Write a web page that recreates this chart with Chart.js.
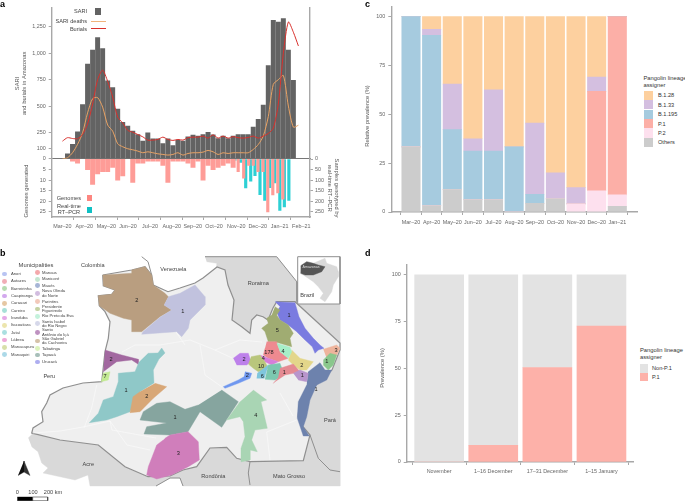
<!DOCTYPE html>
<html>
<head>
<meta charset="utf-8">
<title>SARI, lineages and P.1 prevalence in Amazonas</title>
<script src="https://cdn.jsdelivr.net/npm/chart.js@4/dist/chart.umd.min.js"></script>
<style>
  html, body { margin: 0; padding: 0; background: #fff; }
  body { width: 685px; height: 501px; position: relative; overflow: hidden; font-family: "Liberation Sans", sans-serif; }
  canvas { position: absolute; }
  .txt { position: absolute; white-space: pre; color: #444; font-size: 5.6px; line-height: 6.4px; }
  .key { position: absolute; }
</style>
</head>
<body>
<canvas id="mapChart" style="left:0;top:245px" width="345" height="256"></canvas>
<canvas id="sariChart" style="left:0;top:0" width="345" height="165"></canvas>
<canvas id="genomeChart" style="left:0;top:150px" width="345" height="90"></canvas>
<canvas id="lineageChart" style="left:350px;top:0" width="290" height="232"></canvas>
<canvas id="p1Chart" style="left:350px;top:250px" width="286" height="232"></canvas>
<script>
// ---- panel a ----
const sariWeeks = [0,1,2,3,4,5,6,7,8,9,10,11,12,13,14,15,16,17,18,19,20,21,22,23,24,25,26,27,28,29,30,31,32,33,34,35,36,37,38,39,40,41,42,43,44,45];
const sariCases = [47,136,256,515,897,1030,1150,1045,740,676,472,345,310,262,230,167,246,190,190,145,190,126,177,167,208,224,215,230,250,227,192,215,192,215,230,230,230,300,375,510,885,1313,1297,1330,1030,745];

const lineWeeks = [-1,0,1,2,3,4,5,6,7,8,9,10,11,12,13,14,15,16,17,18,19,20,21,22,23,24,25,26,27,28,29,30,31,32,33,34,35,36,37,38,39,40,41,42,43,44,45,46];
const burials = [167,200,192,190,230,330,520,750,840,735,585,395,340,270,252,230,208,177,177,183,205,183,174,183,177,200,205,205,215,196,227,196,215,196,210,200,196,202,215,196,215,240,290,520,1000,1297,1200,1070];
const sariDeaths = [0,10,57,136,246,435,570,580,490,320,262,142,114,95,85,73,57,66,57,47,41,35,41,57,35,50,57,57,63,79,66,41,57,50,57,57,57,57,88,135,215,400,706,750,790,500,300,318];

const genomeWeeks = [1,2,4,5,6,7,8,9,10,11,13,14,15,16,17,18,19,20,21,22,23,24,25,26,27,28,29,30,31,32,33];
const genomeCounts = [1,2,5,12,7,6,6,4,10,8,11,2,2,1,1,1,3,11,1,1,1,2,4,1,10,3,5,4,3,2,4];
const lateGenomeWeeks = [34,35.1,36.1,37,37.95,38.95,39.9,40.9,41.9,42.9];
const lateGenomeCounts = [6,9,3,3,6,6,25,17,16,19];
const rtPcrWeeks = [33.4,34.5,35.5,36.5,37.35,38.35,39.3,40.3,41.3,42.3,43.2,44.1];
const rtPcrSamples = [5,16,137,105,79,168,195,135,113,242,226,195];

const monthWeeks = [-1.04,3.35,7.73,12.05,16.43,20.76,24.94,29.18,33.63,37.89,42.27,46.57];
const monthLabels = ["Mar–20","Apr–20","May–20","Jun–20","Jul–20","Aug–20","Sep–20","Oct–20","Nov–20","Dec–20","Jan–21","Feb–21"];
const sariTicks = [0,100,250,500,750,1000,1250];
const genomeTicks = [5,10,15,20,25];
const sampleTicks = [0,50,100,150,200,250];

// ---- panel c ----
const lineageMonths = ["Mar–20","Apr–20","May–20","Jun–20","Jul–20","Aug–20","Sep–20","Oct–20","Nov–20","Dec–20","Jan–21"];
const others = [33.3,3.2,11.5,6.25,6.25,0,4.5,6.7,0,0,2.9];
const p2 = [0,0,0,0,0,0,0,0,4.2,10.9,5.9];
const p1 = [0,0,0,0,0,0,0,0,0,50.9,91.2];
const b1195 = [66.7,87.3,30.7,25,25,33.3,4.6,0,0,0,0];
const b1133 = [0,3,23.3,6.25,31.25,0,36.4,13.3,8.3,7.3,0];
const b1128 = [0,6.5,34.5,62.5,37.5,66.7,54.5,80,87.5,30.9,0];

// ---- panel d ----
const periods = ["November","1–16 December","17–31 December","1–15 January"];
const p1Share = [0,8.9,50.5,72.7];
const nonP1Share = [100,91.1,49.5,27.3];

// ---- panel b, map outlines in map units ----
const amazonas = [[102.7,275],[131.7,270],[145,266.7],[151.7,275],[153.3,285],[168,291.7],[180,288],[195,283],[203,278],[217,267],[225,270],[228,285],[234,300],[232,320],[241.7,326.7],[250,333.3],[251.7,320],[256.7,315],[263,316.7],[268,320],[273,308],[276.7,301.7],[295,301.7],[340,343],[340,350],[332,370],[316,385],[308,390],[300,400],[298,416.7],[303,426.7],[310,435],[303.3,460.7],[250,461.7],[236.7,458.3],[226.7,447.3],[210,448],[196.7,466.7],[183,470],[170,476],[148,476.7],[125,466.7],[98.3,445],[60,440],[33,433.3],[31.7,433],[33,428],[43,421.7],[41.7,411.7],[46.7,403],[50,395],[63,388],[83,383],[101.7,381.7],[105,351.7],[108.3,338.3],[110,321.7],[105,311.7],[99.3,305.7],[98.3,295.7],[111.7,294.3],[115,290],[103.3,285.7]];
const roraima = [[205,256.7],[276.7,256.7],[297,282],[297,301.7],[276.7,301.7],[273,308],[268,320],[263,316.7],[256.7,315],[251.7,320],[250,333.3],[241.7,326.7],[232,320],[234,300],[228,285],[225,270],[216.7,267.7],[216.7,263.3],[206.7,261.7]];
const para = [[297,301.7],[340,301.7],[340,486],[250,486],[248.3,473],[250,461.7],[303.3,460.7],[310,435],[303,426.7],[298,416.7],[300,400],[308,390],[316,385],[332,370],[340,350],[340,343],[295,301.7]];
const southStates = [[28.3,438],[33,433.3],[60,440],[98.3,445],[125,466.7],[148,476.7],[170,476],[183,470],[196.7,466.7],[210,448],[226.7,447.3],[236.7,458.3],[250,461.7],[250,486],[183,486],[180,478],[170,478],[156,486],[90,486],[88,475],[75,480],[43,473],[48,468],[41.7,463],[38,451.7],[31.7,446.7]];
const stateBorders = [[[310,435],[318.3,458.3],[330,470],[340,471.7]],[[250,461.7],[248.3,473],[250,485]],[[297,282],[297,301.7]],[[156,486],[170,478],[180,478],[183,486]],[[205,256.7],[276.7,256.7],[297,282]],[[141.7,256.7],[148,261.7],[151.7,275]]];
const rivers = [[[33,433],[60,431],[83,427],[110,421],[112,430],[156,438]],[[96.7,385],[91.7,408],[84,428]],[[110,421],[127,445],[150,450]],[[266.7,432],[270,460]],[[266.7,432],[296.7,420]],[[280,393],[293,416]],[[160,345],[190,340],[215,350],[232,358]],[[200,345],[205,375],[222,387]],[[122,352],[135,345],[160,345]],[[215,350],[240,340],[262,342]],[[185,345],[176,332]]];

const municipalityShapes = [
  { color: "#b99e80", shape: [[102.7,275],[131.7,273.3],[131.7,270],[145,266.7],[151.7,275],[153.3,285],[165,293.3],[168.3,296.7],[164,305],[171.7,310],[160,316.7],[141.7,331.7],[131.7,331.7],[131.7,320],[123.3,318.3],[110,313.3],[99.3,305.7],[98.3,295.7],[111.7,294.3],[115,290],[103.3,285.7]] },
  { color: "#c1c2de", shape: [[168.3,296.7],[180,293.3],[195,285],[205,296.7],[205,305],[190,320],[188.3,328.3],[181.7,336.7],[176.7,331.7],[141.7,334.3],[143,331.7],[160,317.3],[171.7,310],[164,305]] },
  { color: "#a268a0", shape: [[105,350],[121.7,355],[138.3,359.3],[138.3,364.3],[131.7,360],[116.7,361.7],[103.3,371.7]] },
  { color: "#c3ea93", shape: [[103.3,373.3],[110,371.7],[108.3,380],[101,381.7]] },
  { color: "#8fc8c8", shape: [[148,353.3],[158,353],[161.7,348],[165,353],[159,359],[153.3,370],[154,383],[140,391.7],[130,411.7],[116.7,416.7],[106.7,420],[89.3,422.7],[98.3,413.3],[103.3,400],[113.3,396.7],[118.3,381.7],[118.3,373.3],[135,371.7],[139,362]] },
  { color: "#d8a777", shape: [[155,383.3],[166.7,386.7],[153.3,398.3],[140,411.7],[130,412.7],[133,396.7],[140,391.7]] },
  { color: "#86a59f", shape: [[221.7,390],[238.3,401.7],[221.7,427.3],[200,411.7],[188,431.7],[170,435],[144,434],[146.7,426.7],[166.7,423],[140,420],[143.3,411.7],[156.7,403.3],[170,401.7],[185,409.3],[198.3,405]] },
  { color: "#d07ebb", shape: [[165,438.3],[170,435],[188,431.7],[198.3,441.7],[199.3,460],[188.3,466.7],[171.7,475],[156.7,479],[146.7,475],[148.3,466.7],[151.7,458],[156.7,445],[163.3,440]] },
  { color: "#a9d5b4", shape: [[253.3,390],[266.7,400],[261,401.7],[267.3,428.3],[255,430],[251.7,440],[257.3,451.7],[250,450],[250,460],[241.7,461.7],[241,448.3],[245,436.7],[243.3,421.7],[240,416.7],[226.7,420],[240,401.7]] },
  { color: "#6d82ad", shape: [[308,372],[320,362.7],[325,370],[331.7,370],[326.7,380],[316.7,385],[310,400],[306.7,416.7],[303.3,426.7],[309.3,436],[303.3,436],[297.3,418.3],[298.3,401.7],[306.7,385]] },
  { color: "#6f97ef", shape: [[245,371.7],[251.7,373.3],[250,378.3],[238.3,383.3],[225,388.3],[223.3,386.7],[238.3,380],[244,376.7]] },
  { color: "#7a7be0", shape: [[275,301.7],[295,302.7],[299,316.7],[305,328.3],[313.3,338.3],[320,345],[324,348.3],[318.3,350],[315,353.3],[312.3,346.7],[305,340],[296.7,331.7],[288.3,325],[280,320],[276.7,311.7],[280,306.7]] },
  { color: "#a0ac72", shape: [[275,306.7],[280,310],[276.7,315],[280,320],[288.3,325],[293.3,333.3],[290,338.3],[291.7,346.7],[280,343.3],[275,341.7],[268.3,341.7],[265,331.7],[261.7,328.3],[268.3,323.3],[266.7,318.3],[271.7,315]] },
  { color: "#e3d68a", shape: [[291.7,350],[300,358.3],[313.3,361.7],[306.7,370],[300,370],[293.3,365],[288.3,360]] },
  { color: "#ee8a90", shape: [[266.7,341.7],[276.7,341.7],[280,351.7],[288.3,358.3],[278.3,361.7],[268.3,358.3],[263.3,355],[265,348.3]] },
  { color: "#a6efc8", shape: [[276.7,343.3],[290,347.3],[291.7,351.7],[288.3,358.3],[280,351.7]] },
  { color: "#bd81ea", shape: [[233.3,358.3],[240,353.3],[248.3,353.3],[251,361.7],[246.7,365],[236.7,365]] },
  { color: "#d67ed9", shape: [[260,355],[268.3,358.3],[278.3,361.7],[271.7,365],[265,361.7]] },
  { color: "#b9c67c", shape: [[251,356.7],[260,355],[265,361.7],[268.3,368.3],[258.3,371.7],[253.3,368.3],[248.3,364]] },
  { color: "#7fc6dd", shape: [[257.3,373.3],[268.3,365],[264.3,378.3],[256.7,378.3]] },
  { color: "#7cc8b0", shape: [[268.3,365],[280,363.3],[284.3,375],[275,380],[265,379.3]] },
  { color: "#e48a92", shape: [[280,368.3],[293.3,364],[300,371.7],[293.3,373.3],[285,375],[275,381.7],[273.3,383.3],[278,378]] },
  { color: "#b895cc", shape: [[293.3,373.3],[300,370],[308.3,373.3],[306.7,381.7],[298.3,380]] },
  { color: "#eeb49c", shape: [[323.3,349.3],[336.7,345],[340,348.3],[336.7,355],[326.7,358.3]] },
  { color: "#8ac78c", shape: [[323.3,360],[330,353.3],[336.7,355],[333.3,365],[328.3,370],[323.3,365]] }
];
const caseCounts = [["2",136.7,300],["1",182.7,311.7],["2",111,359],["7",105,376.7],["1",126,390],["2",146.7,396],["1",175,417.3],["3",178.3,453.3],["4",255.7,415.7],["1",316,389],["1",289,315],["5",277.3,330],["178",269,352.3],["4",283,351],["2",301.7,365],["2",244,359],["4",263.3,358.3],["10",261,366],["6",262.3,376],["6",274.3,372.7],["1",284.3,372.7],["1",302.3,375],["2",247.3,375],["3",336,350.7],["1",326.7,361.7]];
const placeNames = [["Colombia",92.7,265.7],["Venezuela",173.3,269],["Roraima",258.3,283.3],["Peru",49.3,376],["Acre",88.3,464],["Rondônia",213.3,476],["Mato Grosso",289,476.7],["Pará",330,420],["Brazil",307.3,295],["0",17.3,492],["100",33,492],["200 km",53,492]];

const insetBox = [[297.7,256.7],[340,256.7],[340,304],[297.7,304],[297.7,256.7]];
const brazilInset = [[301.7,265],[306.7,261.7],[313.3,263.3],[325,258.3],[326.7,263.3],[336.7,266.7],[338.3,271.7],[338.3,276.7],[333.3,285],[331.7,291.7],[325,301.7],[320,298.3],[323.3,293.3],[318.3,286.7],[313.3,281.7],[303.3,275],[300,273.3]];
const amazonasInset = [[300.7,265.7],[306.7,261.7],[313.3,263.3],[318.3,265],[325,266.7],[321.7,271.7],[313.3,275],[305,275],[300.7,273.3]];
const scaleBlack = [[17.3,497],[32.7,497],[32.7,500.7],[17.3,500.7]];
const scaleWhite = [[32.7,497],[47.7,497],[47.7,500.7],[32.7,500.7],[32.7,497]];
const northLeft = [[24,461],[24,472],[18,475.5]];
const northRight = [[24,461],[30,475.5],[24,472]];

const municipalitiesA = ["Anori","Autazes","Barreirinha","Caapiranga","Carauari","Careiro","Iranduba","Itacoatiara","Jutaí","Lábrea","Manacapuru","Manaquiri"];
const municipalitiesB = ["Manaus","Manicoré","Maués","Nova Olinda\ndo Norte","Parintins","Presidente\nFigueiredo","Rio Preto da Eva","Santa Isabel\ndo Rio Negro","Santo\nAntônio do Içá","São Gabriel\nda Cachoeira","Tabatinga","Tapauá","Urucará"];
const dotColorsA = ["#b9c4f2","#f0aeb6","#b5dcb0","#d3a9ee","#e5c7a3","#a7e0d8","#e5a9e8","#ece5ad","#aadfe0","#eea9d9","#d7dfa9","#acd9e8"];
const dotColorsB = ["#f4a8ab","#c5e6d0","#a6b5d6","#d2bde0","#f2c9ba","#c5d2a3","#c4f2dc","#d6d8ea","#be91c0","#d5c2a8","#dcf3bc","#a7bfb9","#aeaef0"];

// ---- shared bits ----
const FONT = "'Liberation Sans', sans-serif";
const tickFont = { family: FONT, size: 5.4 };
const titleFont = { family: FONT, size: 5.8 };
const AXIS = "#a8a8a8";
const TICK_TEXT = "#666";

Chart.defaults.animation = false;
Chart.defaults.responsive = false;
Chart.defaults.devicePixelRatio = 1;
Chart.defaults.plugins.legend.display = false;
Chart.defaults.plugins.tooltip.enabled = false;

const points = (xs, ys) => xs.map((x, i) => ({ x: x, y: ys[i] }));
const fitW = w => s => { s.width = w; };
const fitH = h => s => { s.height = h; };
const useTicks = list => s => { s.ticks = list.map(v => ({ value: v })); };
const tickGrid = { drawOnChartArea: false, color: AXIS, tickLength: 3, lineWidth: 1 };
const border = { color: AXIS, width: 1.4 };

// panel a, top half
new Chart(document.getElementById("sariChart"), {
  data: {
    datasets: [
      { type: "line", data: points(lineWeeks, burials), borderColor: "#d8302c", borderWidth: 1, pointRadius: 0, tension: 0.25, yAxisID: "y" },
      { type: "line", data: points(lineWeeks, sariDeaths), borderColor: "#e8a264", borderWidth: 1, pointRadius: 0, tension: 0.25, yAxisID: "y" },
      { type: "bar", data: points(sariWeeks, sariCases), backgroundColor: "#636363", barThickness: 4.3, yAxisID: "y" }
    ]
  },
  options: {
    layout: { padding: { top: 8, bottom: 6, left: 14, right: 0 } },
    scales: {
      x: {
        type: "linear", min: -3.147, max: 48.31, offset: false,
        grid: { display: false }, ticks: { display: false },
        border: { color: "#777", width: 1 }, afterFit: fitH(0)
      },
      y: {
        min: 0, max: 1430,
        afterBuildTicks: useTicks(sariTicks), afterFit: fitW(37.7),
        grid: tickGrid, border: border,
        ticks: { font: tickFont, color: TICK_TEXT, padding: 3, callback: v => v.toLocaleString("en-US") },
        title: { display: true, text: ["SARI", "and burials in Amazonas"], font: titleFont, color: "#555", padding: 0 }
      },
      yEdge: {
        position: "right", min: 0, max: 1, afterFit: fitW(35),
        grid: { display: false }, ticks: { display: false }, border: border
      }
    }
  }
});

// panel a, bottom half
new Chart(document.getElementById("genomeChart"), {
  data: {
    datasets: [
      { type: "bar", data: points(genomeWeeks, genomeCounts), backgroundColor: "#fe9c97", barThickness: 4.3, yAxisID: "y" },
      { type: "bar", data: points(lateGenomeWeeks, lateGenomeCounts), backgroundColor: "#fe9c97", barThickness: 2.5, yAxisID: "y" },
      { type: "bar", data: points(rtPcrWeeks, rtPcrSamples), backgroundColor: "#2dd0d4", barThickness: 2.5, yAxisID: "yRight" }
    ]
  },
  options: {
    layout: { padding: { top: 9, bottom: 5, left: 21, right: 5 } },
    datasets: { bar: { grouped: false } },
    scales: {
      x: {
        type: "linear", min: -3.147, max: 48.31, offset: false,
        afterBuildTicks: useTicks(monthWeeks), afterFit: fitH(18),
        grid: tickGrid, border: border,
        ticks: { font: tickFont, color: TICK_TEXT, padding: 3, autoSkip: false, maxRotation: 0, callback: (v, i) => monthLabels[i] }
      },
      y: {
        reverse: true, min: 0, max: 27.36,
        afterBuildTicks: useTicks(genomeTicks), afterFit: fitW(30.7),
        grid: tickGrid, border: border,
        ticks: { font: tickFont, color: TICK_TEXT, padding: 3 }
      },
      yRight: {
        position: "right", reverse: true, min: 0, max: 273.6,
        afterBuildTicks: useTicks(sampleTicks), afterFit: fitW(30),
        grid: tickGrid, border: border,
        ticks: { font: tickFont, color: TICK_TEXT, padding: 2 },
        title: { display: true, text: ["Samples genotyped by", "real-time RT–PCR"], font: titleFont, color: "#555", padding: 0 }
      }
    }
  }
});

// panel c
const lineageSeries = [
  { label: "Others", values: others, color: "#cccccc" },
  { label: "P.2", values: p2, color: "#fde0ee" },
  { label: "P.1", values: p1, color: "#fcafa7" },
  { label: "B.1.195", values: b1195, color: "#a6cbdf" },
  { label: "B.1.33", values: b1133, color: "#d4bfe0" },
  { label: "B.1.28", values: b1128, color: "#fdd09f" }
];
new Chart(document.getElementById("lineageChart"), {
  type: "bar",
  data: {
    datasets: lineageSeries.map(s => ({
      label: s.label,
      data: s.values.map((v, i) => ({ x: i, y: v })),
      backgroundColor: s.color,
      barThickness: 18.4
    }))
  },
  options: {
    layout: { padding: { top: 6.7, right: 3, left: 11 } },
    scales: {
      x: {
        type: "linear", stacked: true, min: -0.955, max: 10.955, offset: false,
        afterBuildTicks: useTicks(lineageMonths.map((m, i) => i)), afterFit: fitH(20),
        grid: tickGrid, border: border,
        ticks: { font: tickFont, color: TICK_TEXT, padding: 4, autoSkip: false, maxRotation: 0, callback: (v, i) => lineageMonths[i] }
      },
      y: {
        stacked: true, min: 0, max: 105.1,
        afterBuildTicks: useTicks([0, 25, 50, 75, 100]), afterFit: fitW(30.3),
        grid: tickGrid, border: border,
        ticks: { font: tickFont, color: TICK_TEXT, padding: 3 }
      }
    }
  }
});

// panel d
new Chart(document.getElementById("p1Chart"), {
  type: "bar",
  data: {
    datasets: [
      { label: "P.1", data: p1Share.map((v, i) => ({ x: i, y: v })), backgroundColor: "#fdb1a9", barThickness: 49 },
      { label: "Non-P.1", data: nonP1Share.map((v, i) => ({ x: i, y: v })), backgroundColor: "#e3e3e3", barThickness: 49 }
    ]
  },
  options: {
    layout: { padding: { top: 15, right: 3, left: 24 } },
    scales: {
      x: {
        type: "linear", stacked: true, min: -0.6, max: 3.583, offset: false,
        afterBuildTicks: useTicks(periods.map((p, i) => i)), afterFit: fitH(20),
        grid: tickGrid, border: border,
        ticks: { font: tickFont, color: TICK_TEXT, padding: 3, autoSkip: false, maxRotation: 0, callback: (v, i) => periods[i] }
      },
      y: {
        stacked: true, min: 0, max: 105.3,
        afterBuildTicks: useTicks([0, 25, 50, 75, 100]), afterFit: fitW(32.7),
        grid: tickGrid, border: border,
        ticks: { font: tickFont, color: TICK_TEXT, padding: 3 }
      }
    }
  }
});

// panel b, layers are listed back to front
const area = (shape, color, line, width) => ({
  data: shape.map(p => ({ x: p[0], y: p[1] })),
  showLine: true, pointRadius: 0, fill: "shape",
  backgroundColor: color, borderColor: line || color, borderWidth: width === undefined ? 0.4 : width
});
const stroke = (shape, color, width) => ({
  data: shape.map(p => ({ x: p[0], y: p[1] })),
  showLine: true, pointRadius: 0, fill: false, borderColor: color, borderWidth: width
});
const mapLayers = [
  area(roraima, "#d9d9d9"),
  area(para, "#d9d9d9"),
  area(southStates, "#d9d9d9"),
  area(amazonas.concat([amazonas[0]]), "#efefef", "#8f8f8f", 1.2)
].concat(stateBorders.map(l => stroke(l, "#8f8f8f", 1)))
 .concat(rivers.map(l => stroke(l, "#fbfbfb", 0.6)))
 .concat(municipalityShapes.map(m => area(m.shape, m.color)))
 .concat([
   area(insetBox, "#ffffff", "#8f8f8f", 1),
   area(brazilInset, "#d9d9d9"),
   area(amazonasInset, "#555555"),
   area(scaleBlack, "#000000"),
   area(scaleWhite, "#ffffff", "#333333", 0.6),
   area(northLeft, "#111111"),
   area(northRight, "#333333", "#333333", 0.4)
 ]);

const mapText = {
  id: "mapText",
  afterDatasetsDraw(chart) {
    const { ctx, scales } = chart;
    ctx.save();
    ctx.textAlign = "center";
    ctx.textBaseline = "middle";
    ctx.fillStyle = "#444";
    ctx.font = "5.6px " + FONT;
    placeNames.forEach(p => ctx.fillText(p[0], scales.x.getPixelForValue(p[1]), scales.y.getPixelForValue(p[2])));
    ctx.fillStyle = "#222";
    caseCounts.forEach(p => ctx.fillText(p[0], scales.x.getPixelForValue(p[1]), scales.y.getPixelForValue(p[2])));
    ctx.fillStyle = "#ddd";
    ctx.font = "3.6px " + FONT;
    ctx.fillText("Amazonas", scales.x.getPixelForValue(311), scales.y.getPixelForValue(267));
    ctx.restore();
  }
};
new Chart(document.getElementById("mapChart"), {
  type: "scatter",
  data: { datasets: mapLayers.slice().reverse() },
  plugins: [mapText],
  options: {
    elements: { line: { tension: 0 } },
    scales: {
      x: { type: "linear", display: false, min: 0, max: 345 },
      y: { type: "linear", display: false, reverse: true, min: 245, max: 501 }
    }
  }
});

// text around the charts
function addText(text, x, y, opts) {
  const el = document.createElement("div");
  const o = opts || {};
  el.className = "txt";
  el.textContent = text;
  el.style.left = x + "px";
  el.style.top = y + "px";
  if (o.size) { el.style.fontSize = o.size + "px"; el.style.lineHeight = (o.lh || o.size + 1) + "px"; }
  if (o.color) el.style.color = o.color;
  if (o.bold) el.style.fontWeight = "bold";
  if (o.center) { el.style.textAlign = "center"; }
  el.style.transform = o.right ? "translate(-100%,-50%)" : o.center ? "translate(-50%,-50%)" : "translateY(-50%)";
  if (o.rotate) el.style.transform = "translate(-50%,-50%) rotate(-90deg)";
  document.body.appendChild(el);
}
function addKey(x, y, w, h, color, round) {
  const el = document.createElement("div");
  el.className = "key";
  el.style.cssText += `left:${x}px;top:${y}px;width:${w}px;height:${h}px;background:${color};${round ? "border-radius:50%;" : ""}`;
  document.body.appendChild(el);
}

addText("a", 0, 4, { size: 9, bold: true, color: "#000" });
addText("b", 0, 253, { size: 9, bold: true, color: "#000" });
addText("c", 365, 4, { size: 9, bold: true, color: "#000" });
addText("d", 365, 253, { size: 9, bold: true, color: "#000" });

// axis titles that sit off the centre of their axis
addText("Genomes generated", 25.7, 191, { rotate: true, size: 5.8, color: "#555" });
addText("Relative prevalence (%)", 366.7, 115.5, { rotate: true, size: 5.8, color: "#555" });
addText("Prevalence (%)", 381.7, 368, { rotate: true, size: 5.8, color: "#555" });

// panel a legends
addText("SARI", 87, 11.3, { right: true });
addKey(95, 8, 6, 7, "#636363");
addText("SARI deaths", 87, 21, { right: true });
addKey(91, 20.5, 15, 1, "#f0b47c");
addText("Burials", 87, 28.7, { right: true });
addKey(91, 28.2, 15, 1, "#d8302c");
addText("Genomes", 81, 197.7, { right: true });
addKey(86.7, 195, 5.8, 6, "#fd8680");
addText("Real-time\nRT–PCR", 69, 209, { center: true });
addKey(86.7, 206.7, 5.8, 6.5, "#10c0c4");

// panel b legend
addText("Municipalities", 36, 265, { center: true, size: 5.8 });
const rowsA = [274, 281.3, 288.7, 296, 303.3, 310.7, 318, 325.3, 332.7, 340, 347.3, 354.7];
const rowsB = [272.7, 279.3, 285.7, 293.3, 301.7, 309, 316.3, 323.7, 332.3, 341, 348.7, 355, 362];
municipalitiesA.forEach((name, i) => {
  addKey(2, rowsA[i] - 2.4, 4.8, 4.8, dotColorsA[i], true);
  addText(name, 11, rowsA[i], { size: 4.2, lh: 4.2 });
});
municipalitiesB.forEach((name, i) => {
  addKey(35, rowsB[i] - 2.4, 4.8, 4.8, dotColorsB[i], true);
  addText(name, 42, rowsB[i], { size: 4.2, lh: 4.2 });
});

// panel c legend
addText("Pangolin lineage\nassigner", 643.5, 81.5, { size: 5.8, lh: 7.4, color: "#333" });
lineageSeries.slice().reverse().forEach((s, i) => {
  addKey(644, 90.7 + i * 9.4, 9.4, 9.4, s.color);
  addText(s.label, 658, 95.3 + i * 9.4, { color: "#333" });
});

// panel d legend
addText("Pangolin lineage\nassigner", 640, 354, { size: 5.8, lh: 7.4, color: "#333" });
addKey(640, 364, 8, 8.7, "#e3e3e3");
addText("Non-P.1", 652, 368.3, { color: "#333" });
addKey(640, 372.7, 8, 8.7, "#fdb1a9");
addText("P.1", 652, 377, { color: "#333" });
</script>
</body>
</html>
